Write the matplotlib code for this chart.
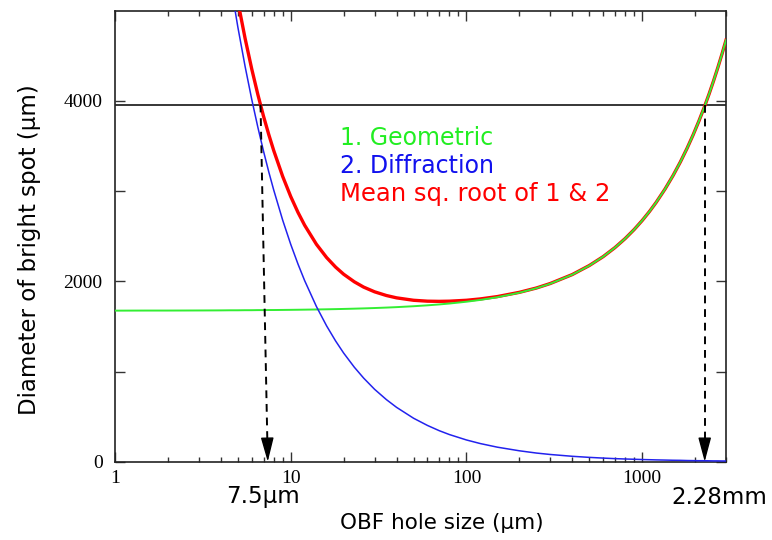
import matplotlib
matplotlib.use("Agg")
import matplotlib.pyplot as plt
from matplotlib.ticker import FixedLocator, LogLocator, NullFormatter

# hole size (um), sampled along the curves
x = [1, 1.5, 2, 3, 4, 4.5, 5, 5.5, 6, 6.5, 7, 7.5, 8, 9, 10, 11, 12, 14, 16, 18,
     20, 23, 26, 30, 35, 40, 50, 60, 70, 80, 100, 120, 150, 200, 250, 300, 400,
     500, 600, 700, 800, 900, 1000, 1100, 1200, 1350, 1500, 1650, 1800, 1950,
     2100, 2250, 2400, 2550, 2700, 2850, 3000]

# 1. geometric spot diameter (um)
geometric = [1675, 1676, 1676, 1677, 1678, 1679, 1679, 1680, 1680, 1681, 1681,
             1682, 1682, 1683, 1684, 1685, 1686, 1688, 1690, 1692, 1694, 1697,
             1700, 1704, 1709, 1714, 1724, 1734, 1744, 1754, 1774, 1794, 1824,
             1874, 1924, 1974, 2074, 2174, 2274, 2374, 2474, 2574, 2674, 2774,
             2874, 3024, 3174, 3324, 3474, 3624, 3774, 3924, 4074, 4224, 4374,
             4524, 4674]

# 2. diffraction spot diameter (um), starts at x = 4
x_diff = x[4:]
diffraction = [6025, 5356, 4820, 4382, 4017, 3708, 3443, 3213, 3013, 2678, 2410,
               2191, 2008, 1721, 1506, 1339, 1205, 1048, 927, 803, 689, 603, 482,
               402, 344, 301, 241, 201, 161, 121, 96, 80, 60, 48, 40, 34, 30, 27,
               24, 22, 20, 18, 16, 15, 13, 12, 11, 11, 10, 9, 9, 8, 8]

# mean square root of 1 & 2 (red)
combined = [6254, 5613, 5104, 4693, 4354, 4071, 3831, 3627, 3451, 3163, 2940,
            2764, 2622, 2411, 2264, 2158, 2079, 1995, 1936, 1884, 1843, 1817,
            1790, 1780, 1778, 1780, 1790, 1805, 1831, 1878, 1926, 1976, 2075,
            2175, 2274, 2374, 2474, 2574, 2674, 2774, 2874, 3024, 3174, 3324,
            3474, 3624, 3774, 3924, 4074, 4224, 4374, 4524, 4674]

limit_level = 3960
arrow_top = [6.73, 2270]
arrow_bottom = [7.4, 2270]
arrow_labels = ["7.5\u03bcm", "2.28mm"]
label_px = [263, 719]

sans = "DejaVu Sans"
serif = "Liberation Serif"

fig = plt.figure(figsize=(7.72, 5.4), dpi=100)
ax = fig.add_axes([0.149, 0.145, 0.7914, 0.835])

ax.plot(x_diff, combined, color="#ff0000", lw=2.4, zorder=3)
ax.plot(x, geometric, color="#33ee33", lw=1.4, zorder=4)
ax.plot(x_diff, diffraction, color="#2222ee", lw=1.1, zorder=4)
ax.axhline(limit_level, color="black", lw=1.1, zorder=2)

head_from = 220
for xt, xb in zip(arrow_top, arrow_bottom):
    # dashed shaft then a solid head
    frac = head_from / limit_level
    xm = xt * (xb / xt) ** (1 - frac)
    ax.plot([xt, xm], [limit_level, head_from], color="black", lw=1.4,
            linestyle=(0, (4, 3)), zorder=5)
    ax.annotate("", xy=(xb, 0), xytext=(xm, head_from),
                arrowprops=dict(arrowstyle="-|>,head_length=0.75,head_width=0.2",
                                color="black", lw=1.0, mutation_scale=20,
                                shrinkA=0, shrinkB=0),
                zorder=5)

ax.set_xscale("log")
ax.set_xlim(1, 3000)
ax.set_ylim(0, 5000)

ax.xaxis.set_major_locator(FixedLocator([1, 10, 100, 1000]))
ax.xaxis.set_minor_locator(LogLocator(base=10, subs=range(2, 10)))
ax.xaxis.set_minor_formatter(NullFormatter())
ax.set_xticklabels(["1", "10", "100", "1000"])
ax.set_yticks([0, 1000, 2000, 3000, 4000])
ax.set_yticklabels(["0", "", "2000", "", "4000"])

ax.tick_params(which="both", direction="in", top=True, right=True,
               labelsize=14, width=1.0, color="#333333")
ax.tick_params(which="major", length=7)
ax.tick_params(axis="x", which="major", pad=6)
ax.tick_params(axis="y", which="major", pad=9)
ax.tick_params(which="minor", length=3.5)
for lab in ax.get_xticklabels() + ax.get_yticklabels():
    lab.set_family(serif)
for s in ax.spines.values():
    s.set_linewidth(1.2)
    s.set_color("#222222")

ax.text(0.369, 0.702, "1. Geometric", color="#22ee22", fontsize=17,
        family=sans, transform=ax.transAxes)
ax.text(0.369, 0.640, "2. Diffraction", color="#1111ee", fontsize=17,
        family=sans, transform=ax.transAxes)
ax.text(0.369, 0.578, "Mean sq. root of 1 & 2", color="#ff0000", fontsize=17.5,
        family=sans, transform=ax.transAxes)

for px, lab in zip(label_px, arrow_labels):
    fig.text(px / 772, 1 - 497 / 540, lab, fontsize=16.5, family=sans,
             ha="center", va="center")

fig.text(442 / 772, 1 - 523 / 540, "OBF hole size (\u03bcm)", fontsize=15.5,
         family=sans, ha="center", va="center")
fig.text(30 / 772, 1 - 250 / 540, "Diameter of bright spot (\u03bcm)",
         fontsize=16.5, family=sans, ha="center", va="center", rotation=90)

fig.savefig("out.png", dpi=100)
